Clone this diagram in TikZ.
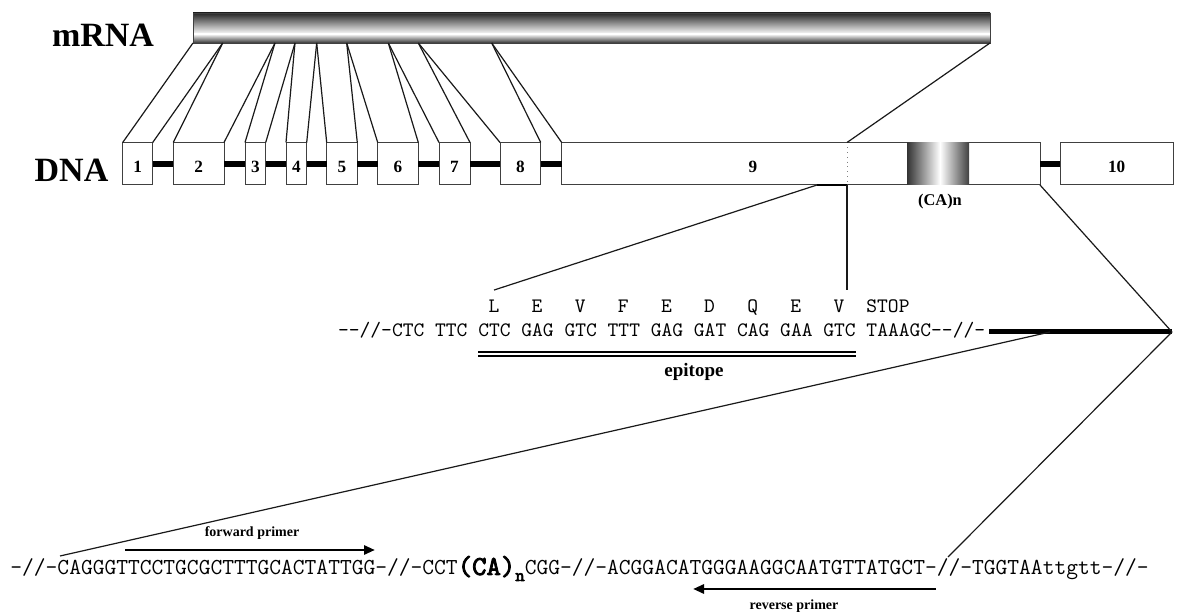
\documentclass[tikz,border=0pt]{standalone}
\usepackage{fontspec}
\setmainfont{Liberation Serif}
\newfontfamily\seqbold[FakeBold=3]{lmmono10-regular.otf}
\usetikzlibrary{arrows.meta}

\tikzset{
  exon/.style={rectangle,draw=black!75,line width=0.5pt,fill=white,anchor=north west,
    inner sep=0pt,outer sep=0pt,minimum height=21.25pt,
    font=\fontsize{8.6}{8.6}\selectfont\bfseries,text height=9.2pt,text depth=0pt},
  intron/.style={line width=3pt},
  link/.style={line width=0.6pt,black!90},
  seq/.style={inner sep=0pt,anchor=base west,font=\ttfamily\fontsize{10.27}{10.27}\selectfont},
  primer/.style={line width=1.4pt,-{Triangle[length=5.5pt,width=4.5pt]}},
  lbl/.style={inner sep=0pt,anchor=base,font=\bfseries}
}

\begin{document}
\begin{tikzpicture}[x=0.5pt,y=-0.5pt]
    \fill[white] (0,0) rectangle (1190,613);

    % mRNA
    \shade[top color=black!85,bottom color=white] (193,13) rectangle (990,34);
    \shade[top color=white,bottom color=black!80] (193,34) rectangle (990,43);
    \node[draw=black!75,line width=0.5pt,inner sep=0pt,anchor=north west,minimum width=398.5pt,minimum height=15pt] (mrna) at (193,13) {};
    \node[lbl,font=\fontsize{17}{17}\selectfont\bfseries] (mlab) at (103,47) {mRNA};

    % DNA
    \node[lbl,font=\fontsize{17}{17}\selectfont\bfseries] (dlab) at (71.5,182) {DNA};
    \foreach \l/\r/\n in {122.7/152.7/1, 173.3/224/2, 245/265.7/3, 286/306.7/4,
                          326.7/357.3/5, 377.7/418.3/6, 439/470/7, 500/540.7/8}
        \node[exon,minimum width={(\r-\l)*0.5pt}] (e\n) at (\l,142.5) {\n};
    \node[exon,minimum width=239.15pt] (e9) at (561.7,142.5) {};
    \node[exon,minimum width=56.65pt] (e10) at (1060,142.5) {10};
    \node[lbl,font=\fontsize{8.6}{8.6}\selectfont\bfseries,anchor=center] (n9) at (753,167) {9};

    % (CA)n repeat
    \shade[left color=black!80,right color=white] (907,143) rectangle (940,184.5);
    \shade[left color=white,right color=black!75] (940,143) rectangle (969,184.5);
    \node[lbl,font=\fontsize{8.2}{8.2}\selectfont\bfseries] (ca) at (940,206) {(CA)n};

    % end of coding region
    \coordinate (stopT) at (847,142.5);
    \coordinate (stopB) at (847,185);
    \draw[black!50,line width=0.4pt,dotted] (stopT) -- (stopB);

    % introns
    \foreach \i [evaluate=\i as \j using int(\i+1)] in {1,...,9}
        \draw[intron] (e\i.east) -- (e\j.west);

    % splicing
    \foreach \x [count=\i] in {193,222.7,275,295,316.7,346.7,388.3,418.3,491.7,990}
        \coordinate (m\i) at (\x,43);
    \draw[link] (m1) -- (e1.north west);
    \foreach \i [evaluate=\i as \j using int(\i+1)] in {1,...,8} {
        \draw[link] (m\j) -- (e\i.north east);
        \draw[link] (m\j) -- (e\j.north west);
    }
    \draw[link] (m10) -- (stopT);

    % epitope
    \node[seq] (codons) at (337.7,337) {-{}-//-CTC TTC CTC GAG GTC TTT GAG GAT CAG GAA GTC TAAAGC-{}-//-};
    \foreach \a [count=\k from 2] in {L,E,V,F,E,D,Q,E,V}
        \node[seq,anchor=base,inner sep=5pt] (aa\k) at ({337.7+(6.5+4*\k)*10.78},313) {\a};
    \node[seq] (stop) at (866,313) {STOP};
    \coordinate (epiA) at (817,185);
    \draw[line width=1.2pt] (epiA) -- (stopB);
    \draw[link] (epiA) -- (aa2.north);
    \draw[link] (stopB) -- (stopB |- aa10.north);
    \coordinate (epiS) at (478,354);
    \coordinate (epiE) at (856,354);
    \draw[line width=0.8pt,double,double distance=1.2pt] (epiS) -- (epiE);
    \node[lbl,font=\fontsize{9.5}{9.5}\selectfont\bfseries] (epi) at (694,377) {epitope};

    % 3' region
    \coordinate (conv) at (1172,332);
    \coordinate (thickS) at (989,332);
    \coordinate (branch) at (1050,332);
    \coordinate (lowL) at (60,556);
    \coordinate (lowR) at (948,557);
    \draw[line width=2.5pt] (thickS) -- (conv);
    \draw[link] (e9.south east) -- (conv);
    \draw[link] (branch) -- (lowL);
    \draw[link] (conv) -- (lowR);

    % microsatellite
    \node[seq,font=\ttfamily\fontsize{11.43}{11.43}\selectfont] (micro) at (10,575)
        {-//-CAGGGTTCCTGCGCTTTGCACTATTGG-//-CCT{\seqbold\fontsize{13.7}{13.7}\selectfont (CA)}\raisebox{-3pt}{\seqbold\fontsize{9}{9}\selectfont n}CGG-//-ACGGACATGGGAAGGCAATGTTATGCT-//-TGGTAAttgtt-//-};

    % primers
    \coordinate (fwS) at (125,550);
    \coordinate (fwE) at (375,550);
    \draw[primer] (fwS) -- (fwE);
    \node[lbl,font=\fontsize{7}{7}\selectfont\bfseries] (fwlab) at (252,537) {forward primer};
    \coordinate (rvS) at (936,589);
    \coordinate (rvE) at (693,589);
    \draw[primer] (rvS) -- (rvE);
    \node[lbl,font=\fontsize{7}{7}\selectfont\bfseries] (rvlab) at (794,610) {reverse primer};
\end{tikzpicture}
\end{document}
